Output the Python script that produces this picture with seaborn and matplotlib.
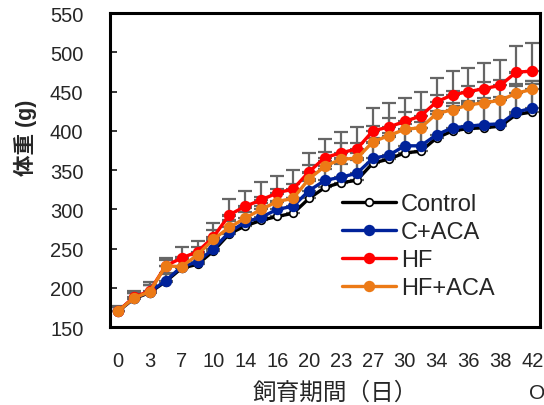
import matplotlib
matplotlib.use('Agg')
import matplotlib.pyplot as plt
import seaborn as sns
import pandas as pd
import numpy as np

# category axis (27 sampling days, every other label shown)
day_labels = ['0', '', '3', '', '7', '', '10', '', '14', '', '16', '', '20', '',
              '23', '', '27', '', '30', '', '34', '', '36', '', '38', '', '42']

control = [170, 186, 194, 208, 225, 230, 247, 269, 279, 286, 291, 295, 314, 328,
           334, 337, 359, 364, 372, 374, 391, 400, 403, 404, 406, 421, 424]
c_aca = [170, 187, 195, 209, 227, 233, 250, 271, 284, 290, 300, 304, 324, 337,
         341, 346, 365, 369, 381, 381, 395, 404, 406, 408, 409, 424, 429]
hf = [170, 188, 196, 228, 238, 246, 265, 293, 304, 312, 321, 326, 348, 366,
      372, 377, 400, 405, 412, 419, 437, 446, 450, 454, 458, 475, 476]
hf_aca = [170, 187, 195, 228, 227, 242, 262, 277, 289, 300, 310, 314, 339, 355,
          364, 365, 386, 394, 402, 404, 422, 427, 433, 436, 439, 448, 453]

# upper SD bars
control_sd = [6, 7, 9, 10, 12, 12, 14, 16, 18, 18, 20, 20, 22, 24,
              24, 26, 26, 28, 28, 30, 30, 32, 32, 34, 34, 36, 36]
c_aca_sd = [6, 7, 9, 10, 12, 12, 14, 16, 18, 18, 20, 20, 22, 24,
            24, 26, 26, 28, 28, 30, 30, 32, 32, 34, 34, 36, 34]
hf_sd = [7, 8, 12, 10, 14, 14, 17, 20, 20, 23, 22, 24, 24, 24,
         27, 28, 29, 30, 30, 31, 30, 30, 30, 33, 33, 33, 36]
hf_aca_sd = [6, 7, 9, 8, 10, 10, 12, 14, 14, 16, 16, 18, 18, 18,
             20, 20, 20, 22, 22, 22, 24, 24, 24, 26, 26, 26, 10]

groups = ['Control', 'C+ACA', 'HF', 'HF+ACA']
values = [control, c_aca, hf, hf_aca]
sds = [control_sd, c_aca_sd, hf_sd, hf_aca_sd]
colors = ['#000000', '#00229A', '#FF0000', '#EC7A16']
faces = ['#FFFFFF', '#00229A', '#FF0000', '#EC7A16']

rows = []
for g, v, s in zip(groups, values, sds):
    for i in range(len(v)):
        rows.append({'group': g, 'idx': i, 'weight': v[i], 'sd': s[i]})
df = pd.DataFrame(rows)

sns.set_style('white')
plt.rcParams['font.family'] = ['Liberation Sans', 'Noto Sans CJK JP', 'DejaVu Sans']

fig = plt.figure(figsize=(5.44, 4.06), dpi=100)
ax = fig.add_axes([0.202, 0.192, 0.791, 0.773])

for k, g in enumerate(groups):
    sub = df[df['group'] == g]
    ax.errorbar(sub['idx'], sub['weight'], yerr=[np.zeros(len(sub)), sub['sd']],
                fmt='none', ecolor='#666666', elinewidth=1.6, capsize=5,
                capthick=1.6, zorder=1)

for k, g in enumerate(groups):
    sub = df[df['group'] == g]
    sns.lineplot(data=sub, x='idx', y='weight', ax=ax, color=colors[k],
                 marker='o', markersize=7 if k else 5.5,
                 markerfacecolor=faces[k], markeredgecolor=colors[k],
                 markeredgewidth=1.2, linewidth=2.4, label=g,
                 errorbar=None, zorder=2 + k)

n = len(day_labels)
ax.set_xlim(-0.5, n - 0.5)
ax.set_ylim(150, 550)
ax.set_yticks(np.arange(150, 551, 50))
ax.set_xticks(np.arange(n))
ax.set_xticklabels(day_labels)
ax.set_xticks(np.arange(n + 1) - 0.5, minor=True)
ax.tick_params(axis='x', which='major', length=0, pad=17, labelsize=14.5)
ax.tick_params(axis='x', which='minor', direction='in', length=5, width=1.3)
ax.tick_params(axis='y', direction='in', length=5, width=1.3, pad=19, labelsize=14.5)
ax.tick_params(left=True, bottom=True)
for sp in ax.spines.values():
    sp.set_linewidth(2.2)
    sp.set_color('black')
ax.set_xlabel('')
ax.set_ylabel('')

fig.text(0.046, 0.66, '体重 (g)', rotation=90, ha='center', va='center',
         fontsize=15.5, fontweight='bold')
fig.text(0.617, 0.03, '飼育期間（日）', ha='center', va='center', fontsize=17)
fig.text(0.987, 0.03, 'O', ha='center', va='center', fontsize=15)

ax.legend(loc='upper left', bbox_to_anchor=(0.628, 0.522), bbox_transform=fig.transFigure,
          frameon=False, fontsize=17, handlelength=2.3, handletextpad=0.21,
          labelspacing=0.26, borderpad=0, borderaxespad=0)

fig.savefig('out.png', dpi=100)
